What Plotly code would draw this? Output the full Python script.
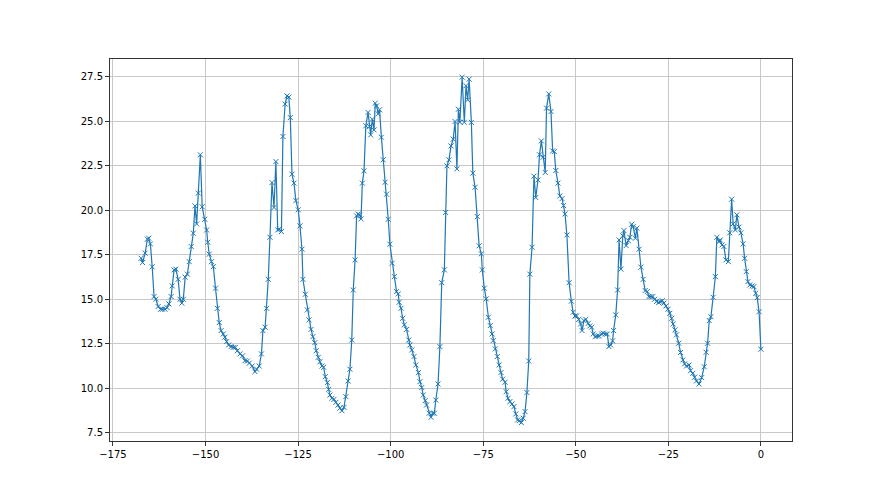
import plotly.graph_objects as go

# Time offsets
x_vals = [
    -167.4, -167.0, -166.3, -165.7, -165.35, -164.9, -164.4, -163.9, -163.4, -162.8,
    -162.1, -161.6, -160.95, -160.4, -159.9, -159.3, -159.0, -158.5, -158.0, -157.4,
    -156.9, -156.4, -156.0, -155.5, -154.9, -154.4, -153.85, -153.3, -152.85, -152.4,
    -151.95, -151.4, -150.9, -150.2, -149.7, -149.4, -149.0, -148.4, -147.9, -147.3,
    -146.8, -146.3, -145.8, -145.2, -144.75, -144.3, -143.75, -143.1, -142.5, -141.95,
    -141.4, -140.7, -140.0, -139.35, -138.7, -138.2, -137.4, -136.65, -136.2, -135.5,
    -134.9, -134.5, -133.9, -133.5, -133.05, -132.6, -132.05, -131.5, -131.0, -130.5,
    -130.1, -129.5, -129.1, -128.5, -128.0, -127.5, -127.1, -126.65, -126.1, -125.6,
    -124.95, -124.5, -123.95, -123.7, -123.05, -122.5, -122.05, -121.5, -121.0, -120.5,
    -120.1, -119.55, -119.1, -118.55, -118.1, -117.65, -117.1, -116.75, -116.4, -115.85,
    -115.3, -114.8, -114.2, -113.7, -113.15, -112.6, -112.1, -111.5, -111.0, -110.5,
    -110.1, -109.6, -109.2, -108.8, -108.4, -108.0, -107.65, -107.2, -106.7, -106.1,
    -105.75, -105.4, -104.95, -104.5, -104.15, -103.8, -103.35, -103.0, -102.5, -102.0,
    -101.5, -101.1, -100.65, -100.2, -99.6, -99.0, -98.4, -97.95, -97.7, -97.2,
    -96.75, -96.3, -95.7, -95.1, -94.8, -94.3, -93.7, -93.2, -92.5, -92.1,
    -91.6, -91.2, -90.65, -90.3, -89.6, -89.1, -88.65, -88.2, -87.8, -87.2,
    -86.7, -86.2, -85.5, -85.15, -84.8, -84.25, -83.7, -83.1, -82.6, -82.1,
    -81.7, -81.3, -80.7, -80.1, -79.65, -79.2, -78.8, -78.2, -77.8, -77.2,
    -76.6, -76.1, -75.5, -75.25, -74.7, -74.2, -73.6, -73.1, -72.6, -72.3,
    -71.75, -71.2, -70.7, -70.2, -69.75, -69.1, -68.8, -68.3, -67.8, -67.2,
    -66.7, -66.2, -65.7, -65.2, -64.7, -64.2, -63.7, -63.2, -62.7, -62.4,
    -61.8, -61.3, -60.8, -60.2, -59.8, -59.3, -58.8, -58.25, -57.9, -57.3,
    -56.7, -56.25, -55.8, -55.4, -54.8, -54.3, -53.7, -53.3, -52.9, -52.4,
    -51.8, -51.2, -50.7, -50.2, -49.8, -49.2, -48.7, -48.3, -47.8, -47.3,
    -46.6, -46.2, -45.7, -45.3, -44.75, -44.2, -43.7, -43.0, -42.6, -42.0,
    -41.5, -41.05, -40.6, -40.05, -39.8, -39.2, -38.7, -38.3, -37.8, -37.3,
    -37.0, -36.4, -35.8, -35.4, -34.9, -34.5, -33.9, -33.5, -32.9, -32.4,
    -31.8, -31.25, -30.7, -30.25, -29.7, -29.2, -28.7, -28.2, -27.6, -27.2,
    -26.65, -26.2, -25.65, -25.1, -24.6, -24.1, -23.7, -23.2, -22.8, -22.2,
    -21.7, -21.1, -20.6, -20.1, -19.4, -19.0, -18.4, -17.9, -17.4, -16.7,
    -16.0, -15.3, -14.8, -14.4, -13.95, -13.5, -12.9, -12.3, -11.9, -11.3,
    -11.0, -10.5, -10.0, -9.45, -8.8, -8.4, -7.9, -7.5, -6.9, -6.5,
    -5.9, -5.4, -4.8, -4.4, -3.95, -3.5, -3.0, -2.4, -1.9, -1.4,
    -1.0, -0.5, 0.0,
]

y_vals = [
    17.31, 17.07, 17.6, 18.38, 18.44, 18.12, 16.83, 15.16, 15.01, 14.6,
    14.45, 14.45, 14.45, 14.54, 14.75, 15.16, 15.76, 16.66, 16.7, 16.13,
    15.01, 14.79, 15.01, 16.25, 16.42, 17.12, 17.97, 18.72, 20.25, 19.24,
    20.97, 23.12, 20.2, 19.5, 18.9, 18.21, 17.54, 17.12, 16.84, 15.63,
    14.5, 13.7, 13.25, 13.06, 12.88, 12.63, 12.44, 12.35, 12.31, 12.31,
    12.12, 11.94, 11.83, 11.56, 11.54, 11.42, 11.26, 10.95, 11.08, 11.26,
    11.94, 13.25, 13.44, 14.5, 16.13, 18.49, 21.56, 20.16, 22.74, 18.9,
    18.94, 18.81, 24.15, 25.97, 26.43, 26.36, 25.21, 22.03, 21.53, 20.55,
    20.03, 19.13, 17.82, 16.13, 15.29, 14.41, 13.85, 13.32, 12.91, 12.57,
    12.12, 11.75, 11.5, 11.26, 11.19, 10.66, 10.33, 9.95, 9.63, 9.45,
    9.39, 9.22, 9.07, 8.89, 8.75, 8.94, 9.54, 10.42, 11.08, 12.72,
    15.53, 17.22, 19.69, 19.79, 19.75, 19.52, 21.53, 22.22, 24.75, 25.5,
    24.71, 24.24, 25.12, 24.52, 26.02, 25.87, 25.42, 25.65, 24.11, 22.84,
    21.58, 20.91, 19.5, 18.1, 17.03, 16.28, 15.44, 15.31, 14.84, 14.5,
    13.94, 13.57, 13.32, 12.72, 12.44, 12.16, 11.79, 11.32, 10.89, 10.38,
    10.05, 9.63, 9.32, 9.07, 8.61, 8.38, 8.61, 8.61, 9.35, 10.25,
    12.35, 15.94, 16.66, 19.88, 22.5, 22.84, 23.62, 24.0, 24.99, 22.33,
    25.68, 24.95, 27.48, 24.95, 27.0, 26.21, 27.37, 24.94, 22.09, 21.3,
    19.65, 18.01, 17.56, 16.66, 15.63, 15.03, 14.0, 13.53, 13.06, 12.69,
    12.22, 11.79, 11.32, 10.89, 10.52, 10.35, 9.82, 9.45, 9.26, 9.13,
    8.98, 8.57, 8.23, 8.19, 8.08, 8.33, 8.7, 9.77, 11.54, 16.42,
    17.93, 21.92, 20.72, 21.71, 23.12, 23.9, 22.99, 22.13, 25.74, 26.54,
    25.55, 23.34, 23.3, 22.24, 21.53, 20.81, 20.66, 20.27, 19.8, 18.62,
    15.94, 14.9, 14.28, 14.07, 14.07, 13.88, 13.62, 13.25, 13.81, 13.88,
    13.66, 13.51, 13.44, 13.06, 12.91, 12.95, 12.95, 13.06, 13.1, 13.06,
    13.06, 12.35, 12.44, 12.67, 13.25, 14.13, 15.53, 18.34, 16.7, 18.57,
    18.87, 18.02, 18.3, 18.49, 19.22, 19.09, 18.44, 19.0, 17.82, 16.81,
    16.13, 15.5, 15.44, 15.16, 15.16, 15.16, 15.01, 14.88, 14.82, 14.88,
    14.93, 14.79, 14.63, 14.45, 14.22, 13.94, 13.62, 13.29, 13.01, 12.54,
    12.02, 11.6, 11.38, 11.26, 11.32, 11.0, 10.85, 10.63, 10.42, 10.25,
    10.61, 11.22, 12.03, 12.54, 13.81, 14.03, 15.12, 16.28, 18.49, 18.25,
    18.34, 18.06, 17.97, 17.22, 17.12, 18.74, 20.63, 19.24, 18.9, 19.75,
    19.06, 18.74, 18.12, 17.31, 16.56, 16.0, 15.81, 15.76, 15.72, 15.35,
    15.1, 14.31, 12.2,
]

x_ticks = [-175, -150, -125, -100, -75, -50, -25, 0]
y_ticks = [7.5, 10.0, 12.5, 15.0, 17.5, 20.0, 22.5, 25.0, 27.5]

color = "#1f77b4"

fig = go.Figure()
fig.add_trace(go.Scatter(
    x=x_vals, y=y_vals, mode="lines+markers",
    line=dict(color=color, width=1.2),
    marker=dict(symbol="x-thin", size=5, line=dict(color=color, width=1), color=color),
    showlegend=False,
))

axis_common = dict(
    showgrid=True, gridcolor="#c8c8c8", gridwidth=0.8,
    showline=True, linecolor="#333333", linewidth=1, mirror=True,
    ticks="outside", ticklen=4, tickcolor="#333333", tickwidth=1,
    zeroline=False,
    tickfont=dict(family="DejaVu Sans", size=10, color="#000000"),
)

fig.update_layout(
    width=880, height=495,
    margin=dict(l=102, r=96, t=51, b=62),
    paper_bgcolor="white", plot_bgcolor="white",
    xaxis=dict(range=[-175.8, 8.4], tickvals=x_ticks, **axis_common),
    yaxis=dict(range=[7.05, 28.5], tickvals=y_ticks, tickformat=".1f", **axis_common),
)

fig.write_html("out.html")
